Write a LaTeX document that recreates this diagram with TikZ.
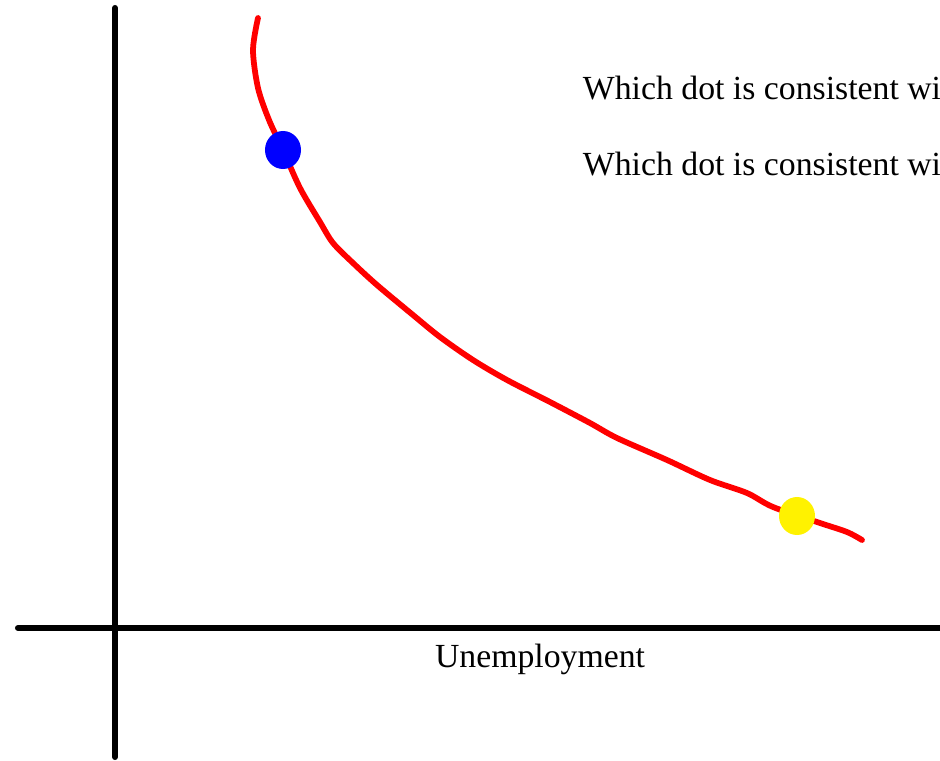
\documentclass[tikz,border=0pt]{standalone}
\usepackage{fontspec}
\setmainfont{Liberation Serif}
\usetikzlibrary{shapes,positioning,calc}

\begin{document}
\begin{tikzpicture}[x=0.025cm, y=-0.025cm,
    axisline/.style={line width=4.3pt, line cap=round, black},
    pccurve/.style={line width=4.1pt, line cap=round, red},
    dotmark/.style={ellipse, minimum width=0.9cm, minimum height=0.95cm, inner sep=0pt, fill=#1},
    qtext/.style={anchor=base west, font=\fontsize{24}{28}\selectfont}]
    \useasboundingbox (0,0) rectangle (940,761);
    \clip (0,0) rectangle (940,761);

    % Axes
    \coordinate (ytop) at (115,8);
    \coordinate (ybot) at (115,757);
    \coordinate (xleft) at (18,628);
    \coordinate (xright) at (960,628);
    \draw[axisline] (ytop) -- (ybot);
    \draw[axisline] (xleft) -- (xright);

    % Curve
    \draw[pccurve] plot[smooth, tension=0.5] coordinates {
        (258,18) (253,50) (258,88) (269,120) (283,150) (300,188) (320,222)
        (333,243) (353,263) (377,285) (413,315) (440,337) (473,360)
        (507,380) (550,402) (590,423) (617,438) (667,460) (710,480)
        (747,493) (773,507) (820,523) (847,532) (862,540)};

    % Dots
    \node[dotmark=blue] (hiinfl) at (283,150) {};
    \node[dotmark=yellow] (hiunemp) at (797,516) {};

    % Labels
    \node[qtext] (qone) at (578,100) {Which dot is consistent wi};
    \node[qtext] (qtwo) at (578,176) {Which dot is consistent wi};
    \node[font=\fontsize{24}{28}\selectfont] (xlabel) at (540,659) {Unemployment};
\end{tikzpicture}
\end{document}
